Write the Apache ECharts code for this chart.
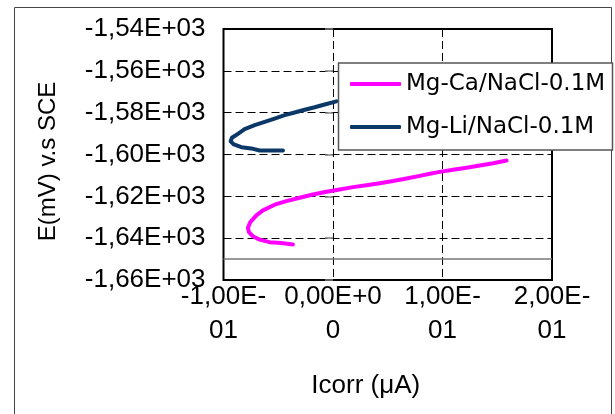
<!DOCTYPE html>
<html>
<head>
<meta charset="utf-8">
<script src="https://cdn.jsdelivr.net/npm/echarts@6/dist/echarts.min.js"></script>
<style>html,body{margin:0;padding:0;background:#fff;}#c{width:615px;height:414px;}</style>
</head>
<body>
<div id="c"></div>
<script>
const seriesNames = ['Mg-Ca/NaCl-0.1M', 'Mg-Li/NaCl-0.1M'];
const mgCaX = [0.1585,0.1463,0.1341,0.1219,0.1097,0.0975,0.0884,0.0793,0.0671,0.0548,0.0427,0.0305,0.0183,0.0061,-0.0060,-0.0183,-0.0304,-0.0426,-0.0533,-0.0640,-0.0700,-0.0755,-0.0777,-0.0768,-0.0731,-0.0670,-0.0579,-0.0472,-0.0366];
const mgCaY = [-1602.9,-1604.2,-1605.3,-1606.3,-1607.3,-1608.3,-1609.2,-1610.2,-1611.5,-1612.7,-1613.7,-1614.7,-1615.6,-1616.7,-1617.8,-1619.1,-1620.7,-1622.3,-1624.0,-1626.7,-1629.1,-1632.3,-1635.0,-1637.1,-1639.1,-1640.7,-1641.9,-1642.3,-1643.0];
const mgLiX = [0.0031,-0.0076,-0.0167,-0.0259,-0.0350,-0.0441,-0.0533,-0.0624,-0.0715,-0.0807,-0.0868,-0.0923,-0.0935,-0.0905,-0.0837,-0.0746,-0.0670,-0.0563,-0.0457];
const mgLiY = [-1574.6,-1576.1,-1577.4,-1578.6,-1579.9,-1581.2,-1582.8,-1584.4,-1586.0,-1587.9,-1590.1,-1592.0,-1593.7,-1595.2,-1596.5,-1597.1,-1598.1,-1598.1,-1598.1];
const xTickLabels = ['-1,00E-\n01', '0,00E+0\n0', '1,00E-\n01', '2,00E-\n01'];
const yTickLabels = ['-1,66E+03','-1,64E+03','-1,62E+03','-1,60E+03','-1,58E+03','-1,56E+03','-1,54E+03'];
const xAxisTitle = 'Icorr (μA)';
const yAxisTitle = 'E(mV) v.s SCE';
const crossLineY = -1650;

const zip = (xs, ys) => xs.map((x, i) => [x, ys[i]]);
const chart = echarts.init(document.getElementById('c'), null, {renderer: 'canvas'});
const font = 'Liberation Sans';
chart.setOption({
  animation: false,
  backgroundColor: '#fff',
  grid: {left: 223.5, right: 63, top: 29, bottom: 134, show: true, borderColor: '#000', borderWidth: 2, containLabel: false},
  graphic: [
    {type: 'rect', z: 0, shape: {x: 14.5, y: 7.5, width: 597, height: 420}, style: {fill: 'none', stroke: '#444', lineWidth: 1}},
    {type: 'rect', z: 50, shape: {x: 338.5, y: 63, width: 274, height: 87}, style: {fill: '#fff', stroke: '#555', lineWidth: 1.5}}
  ],
  legend: {
    z: 60, orient: 'vertical', left: 350, top: 72, padding: 0,
    itemWidth: 51, itemHeight: 4, itemGap: 19, icon: 'roundRect',
    textStyle: {fontFamily: 'DejaVu Sans', fontSize: 23, color: '#000', lineHeight: 24, padding: [0, 0, 0, 0]},
    data: seriesNames
  },
  xAxis: {
    type: 'value', min: -0.1, max: 0.2, interval: 0.1,
    name: xAxisTitle, nameLocation: 'middle', nameGap: 93,
    nameTextStyle: {fontFamily: font, fontSize: 26, color: '#000', padding: [0, 44, 0, 0]},
    axisLine: {show: false}, axisTick: {show: false},
    axisLabel: {margin: 0, fontFamily: font, fontSize: 26, color: '#000', lineHeight: 34,
      formatter: v => xTickLabels[Math.round((v + 0.1) / 0.1)]},
    splitLine: {show: true, lineStyle: {color: '#000', type: [8, 4], width: 1}}
  },
  yAxis: {
    type: 'value', min: -1660, max: -1540, interval: 20,
    name: yAxisTitle, nameLocation: 'middle', nameGap: 163,
    nameTextStyle: {fontFamily: font, fontSize: 24, color: '#000', padding: [0, 14, 0, 0]},
    axisLine: {show: false},
    axisTick: {show: true, length: 8, lineStyle: {color: '#808080', width: 1.5}},
    axisLabel: {margin: 18, fontFamily: font, fontSize: 26, color: '#000',
      formatter: v => yTickLabels[Math.round((v + 1660) / 20)]},
    splitLine: {show: true, lineStyle: {color: '#000', type: [8, 4], width: 1}}
  },
  series: [
    {name: seriesNames[0], type: 'line', data: zip(mgCaX, mgCaY), showSymbol: false, symbol: 'none',
      lineStyle: {color: '#ff00ff', width: 4, cap: 'round', join: 'round'}, itemStyle: {color: '#ff00ff'},
      markLine: {silent: true, symbol: 'none', label: {show: false}, animation: false,
        lineStyle: {color: '#777', width: 1.5, type: 'solid'}, data: [{yAxis: crossLineY}]}},
    {name: seriesNames[1], type: 'line', data: zip(mgLiX, mgLiY), showSymbol: false, symbol: 'none',
      lineStyle: {color: '#0b3866', width: 4, cap: 'round', join: 'round'}, itemStyle: {color: '#0b3866'}}
  ]
});
</script>
</body>
</html>
